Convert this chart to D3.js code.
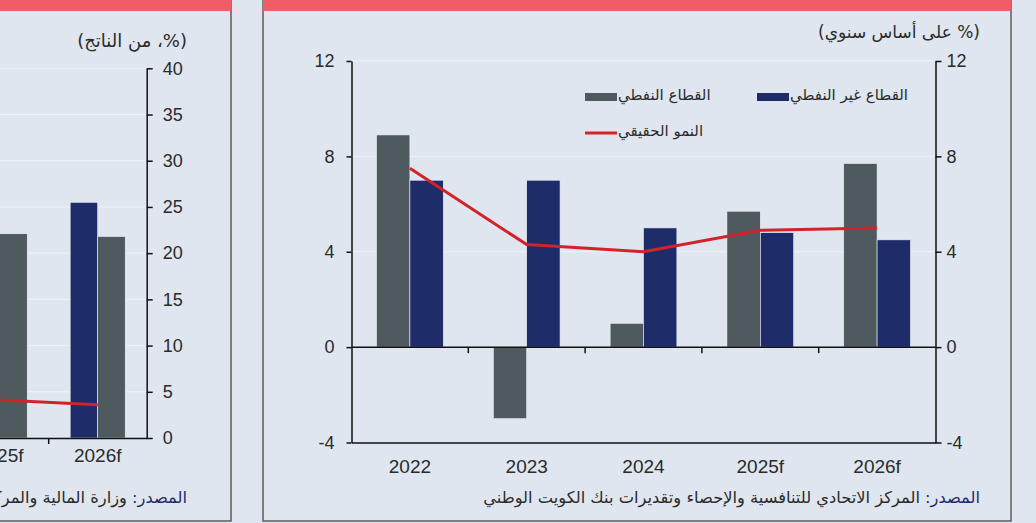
<!DOCTYPE html>
<html>
<head>
<meta charset="utf-8">
<script src="https://cdn.jsdelivr.net/npm/d3@7"></script>
<style>
  body { margin: 0; background: #dfe6ef; }
  svg { display: block; }
  text { font-family: "Liberation Sans", "DejaVu Sans", sans-serif; fill: #2b2b2b; }
  .ar { font-family: "DejaVu Sans", sans-serif; }
</style>
</head>
<body>
<svg id="chart" width="1036" height="523"></svg>
<script>
// right chart: real growth by sector (% y/y)
const years = ["2022", "2023", "2024", "2025f", "2026f"];
const oilSector = [8.9, -3.0, 1.0, 5.7, 7.7];
const nonOilSector = [7.0, 7.0, 5.0, 4.8, 4.5];
const realGrowth = [7.5, 4.3, 4.0, 4.9, 5.0];
const growthTicks = [-4, 0, 4, 8, 12];

// left chart (only its right edge shows): % of GDP
const leftYears = ["2025f", "2026f"];
const leftNavy = [27.4, 25.5];
const leftGray = [22.1, 21.8];
const leftLine = [4.1, 3.6];
const leftTicks = [0, 5, 10, 15, 20, 25, 30, 35, 40];

const gray = "#4f5a5f", navy = "#1f2c6a", red = "#d2232a";
const svg = d3.select("#chart");

// panels
svg.append("rect").attr("x", -5).attr("y", -2).attr("width", 236).attr("height", 523)
    .attr("fill", "#dfe6ef").attr("stroke", "#5b5b5b").attr("stroke-width", 1.5);
svg.append("rect").attr("x", 263).attr("y", -2).attr("width", 748).attr("height", 523)
    .attr("fill", "#dfe6ef").attr("stroke", "#5b5b5b").attr("stroke-width", 1.5);
svg.append("rect").attr("x", -5).attr("y", 0).attr("width", 236).attr("height", 11).attr("fill", "#f15c66");
svg.append("rect").attr("x", 263).attr("y", 0).attr("width", 748).attr("height", 11).attr("fill", "#f15c66");

// ---------- right chart ----------
const x0 = d3.scaleBand().domain(years).range([351.5, 935.5]);
const x1 = d3.scaleBand().domain(["oil", "nonoil"]).range([0, x0.bandwidth()]).paddingOuter(0.75);
const y = d3.scaleLinear().domain([-4, 12]).range([442.5, 61]);

const right = svg.append("g");

right.selectAll(".grid").data([4, 8, 12]).join("line")
    .attr("x1", 351.5).attr("x2", 935.5)
    .attr("y1", d => y(d)).attr("y2", d => y(d))
    .attr("stroke", "#eef2f7").attr("stroke-width", 1);

function bars(g, values, key, color, xs, xsub, ys) {
    g.selectAll(null).data(values).join("rect")
        .attr("x", (d, i) => xs(xs.domain()[i]) + xsub(key))
        .attr("y", d => ys(Math.max(0, d)))
        .attr("width", xsub.bandwidth())
        .attr("height", d => Math.abs(ys(d) - ys(0)))
        .attr("fill", color)
        .attr("stroke", "#eef2f7").attr("stroke-width", 0.6);
}
bars(right, oilSector, "oil", gray, x0, x1, y);
bars(right, nonOilSector, "nonoil", navy, x0, x1, y);

const line = d3.line()
    .x((d, i) => x0(years[i]) + x0.bandwidth() / 2)
    .y(d => y(d));
right.append("path").datum(realGrowth)
    .attr("d", line).attr("fill", "none")
    .attr("stroke", red).attr("stroke-width", 3);

// zero line with category dividers
right.append("line").attr("x1", 351.5).attr("x2", 935.5)
    .attr("y1", y(0)).attr("y2", y(0)).attr("stroke", "#111").attr("stroke-width", 1.5);
right.selectAll(".div").data(years.slice(1)).join("line")
    .attr("x1", d => x0(d)).attr("x2", d => x0(d))
    .attr("y1", y(0)).attr("y2", y(0) + 6)
    .attr("stroke", "#111").attr("stroke-width", 1.5);

function styleAxis(g, size) {
    g.select(".domain").attr("stroke", "#111").attr("stroke-width", 1.5);
    g.selectAll(".tick line").attr("stroke", "#111").attr("stroke-width", 1.5);
    g.selectAll(".tick text").attr("font-size", size).attr("fill", "#2b2b2b")
        .style("font-family", "'Liberation Sans', sans-serif");
}

right.append("g").attr("transform", "translate(351.5,0)")
    .call(d3.axisLeft(y).tickValues(growthTicks).tickSize(5).tickSizeOuter(0).tickPadding(12).tickFormat(d => String(d)))
    .call(g => styleAxis(g, 18));
right.append("g").attr("transform", "translate(935.5,0)")
    .call(d3.axisRight(y).tickValues(growthTicks).tickSize(6).tickSizeOuter(0).tickPadding(5).tickFormat(d => String(d)))
    .call(g => styleAxis(g, 18));
right.append("g").attr("transform", `translate(0,${y(-4)})`)
    .call(d3.axisBottom(x0).tickSize(0).tickSizeOuter(0).tickPadding(17))
    .call(g => styleAxis(g, 19));

// unit title
right.append("text").attr("class", "ar")
    .attr("x", 980).attr("y", 38)
    .attr("direction", "rtl").attr("text-anchor", "start")
    .attr("font-size", 17)
    .text("(% على أساس سنوي)");

// legend
const legend = [
    { label: "القطاع النفطي", color: gray, type: "rect", x: 585, y: 97 },
    { label: "القطاع غير النفطي", color: navy, type: "rect", x: 757, y: 97 },
    { label: "النمو الحقيقي", color: red, type: "line", x: 585, y: 133 }
];
legend.forEach(d => {
    if (d.type === "rect") {
        right.append("rect").attr("x", d.x).attr("y", d.y - 4).attr("width", 32).attr("height", 8).attr("fill", d.color);
    } else {
        right.append("line").attr("x1", d.x).attr("x2", d.x + 32).attr("y1", d.y).attr("y2", d.y)
            .attr("stroke", d.color).attr("stroke-width", 3);
    }
    right.append("text").attr("class", "ar")
        .attr("x", d.x + 33).attr("y", d.y + 3)
        .attr("direction", "rtl").attr("text-anchor", "end")
        .attr("font-size", 15)
        .text(d.label);
});

// source
const src = right.append("text").attr("class", "ar")
    .attr("x", 980).attr("y", 503)
    .attr("direction", "rtl").attr("text-anchor", "start")
    .attr("font-size", 16.3);
src.append("tspan").attr("fill", navy).text("المصدر: ");
src.append("tspan").attr("fill", "#2b2b2b").text("المركز الاتحادي للتنافسية والإحصاء وتقديرات بنك الكويت الوطني");

// ---------- left chart (partial) ----------
const xl = d3.scaleBand().domain(leftYears).range([-49.3, 146.7]);
const xl1 = d3.scaleBand().domain(["navy", "gray"]).range([0, xl.bandwidth()]).paddingOuter(0.78);
const yl = d3.scaleLinear().domain([0, 40]).range([438, 68.3]);

const left = svg.append("g");

left.selectAll(".grid").data(leftTicks.slice(1)).join("line")
    .attr("x1", 0).attr("x2", 146.7)
    .attr("y1", d => yl(d)).attr("y2", d => yl(d))
    .attr("stroke", "#eef2f7").attr("stroke-width", 1);

bars(left, leftNavy, "navy", navy, xl, xl1, yl);
bars(left, leftGray, "gray", gray, xl, xl1, yl);

const lineL = d3.line()
    .x((d, i) => xl(leftYears[i]) + xl.bandwidth() / 2)
    .y(d => yl(d));
left.append("path").datum(leftLine)
    .attr("d", lineL).attr("fill", "none")
    .attr("stroke", red).attr("stroke-width", 3);

left.append("g").attr("transform", "translate(146.7,0)")
    .call(d3.axisRight(yl).tickValues(leftTicks).tickSize(6).tickSizeOuter(0).tickPadding(10).tickFormat(d => String(d)))
    .call(g => styleAxis(g, 18));
left.append("g").attr("transform", `translate(0,${yl(0)})`)
    .call(d3.axisBottom(xl).tickSize(0).tickSizeOuter(0).tickPadding(11))
    .call(g => styleAxis(g, 19));
left.selectAll(".divl").data(leftYears.slice(1)).join("line")
    .attr("x1", d => xl(d)).attr("x2", d => xl(d))
    .attr("y1", yl(0)).attr("y2", yl(0) + 6)
    .attr("stroke", "#111").attr("stroke-width", 1.5);

left.append("text").attr("class", "ar")
    .attr("x", 187).attr("y", 47)
    .attr("direction", "rtl").attr("text-anchor", "start")
    .attr("font-size", 18)
    .text("(%، من الناتج)");

const srcL = left.append("text").attr("class", "ar")
    .attr("x", 187).attr("y", 503)
    .attr("direction", "rtl").attr("text-anchor", "start")
    .attr("font-size", 16.3);
srcL.append("tspan").attr("fill", navy).text("المصدر: ");
srcL.append("tspan").attr("fill", "#2b2b2b").text("وزارة المالية والمركز الاتحادي للتنافسية والإحصاء");
</script>
</body>
</html>
